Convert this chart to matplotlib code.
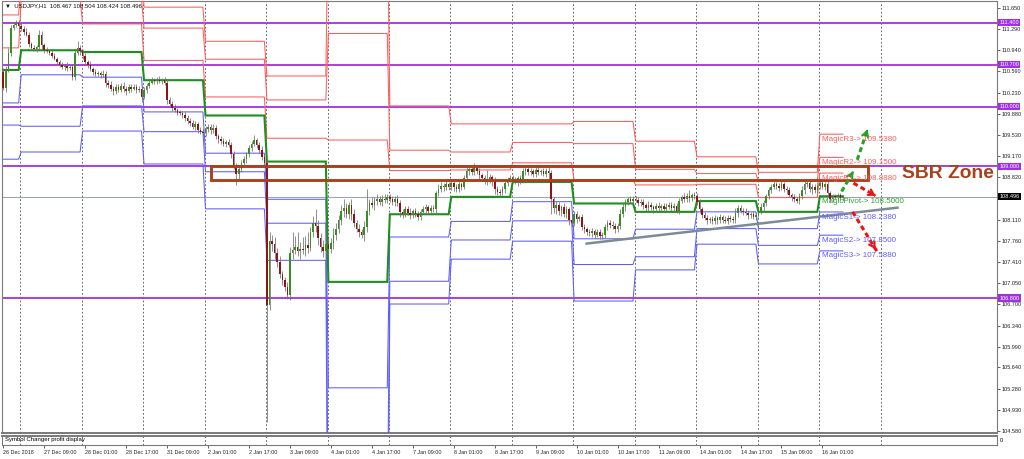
"""USDJPY H1 con pivotes diarios (MagicPivot) y zona SBR.

Reconstruye una captura de MT4: velas horarias del 26 Dec 2018 al
16 Jan 2019, niveles P/R1-R3/S1-S3 por dia, lineas horizontales
moradas, la zona SBR y las flechas de escenario.
"""

import matplotlib
matplotlib.use("Agg")
import matplotlib.pyplot as plt
from matplotlib.patches import Rectangle
from matplotlib.transforms import blended_transform_factory
import numpy as np

plt.rcParams["font.family"] = ["Liberation Sans", "DejaVu Sans"]

# barras por dia (26 Dec empieza a las 17:00, 16 Jan va por la 10a barra)
DAY_BARS = [7, 24, 24, 24, 24, 24, 24, 24, 24, 24, 24, 24, 24, 24, 10]

FIRST_OPEN = 110.58
CLOSES = [
    # 26 Dec
    110.31, 110.62, 110.90, 111.32, 111.36, 111.40, 111.35,
    # 27 Dec
    111.30, 111.25, 111.20, 111.05, 110.98, 110.96, 110.99, 111.20, 111.02, 110.95, 110.92, 110.90,
    110.85, 110.80, 110.74, 110.70, 110.66, 110.68, 110.64, 110.66, 110.50, 110.90, 110.98, 110.92,
    # 28 Dec
    110.85, 110.75, 110.70, 110.62, 110.58, 110.55, 110.56, 110.52, 110.55, 110.39, 110.36, 110.30,
    110.26, 110.32, 110.28, 110.35, 110.30, 110.26, 110.33, 110.30, 110.32, 110.28, 110.30, 110.16,
    # 31 Dec
    110.28, 110.35, 110.40, 110.44, 110.42, 110.45, 110.42, 110.44, 110.40, 110.11, 110.05, 109.98,
    109.95, 109.90, 109.89, 109.86, 109.80, 109.76, 109.72, 109.66, 109.70, 109.60, 109.58, 109.56,
    # 2 Jan
    109.62, 109.66, 109.60, 109.64, 109.50, 109.45, 109.42, 109.38, 109.40, 109.36, 109.20, 109.00,
    108.88, 108.95, 109.05, 109.12, 109.20, 109.30, 109.38, 109.44, 109.36, 109.28, 109.15, 109.05,
    # 3 Jan
    106.68, 107.75, 107.70, 107.55, 107.40, 107.20, 107.10, 106.98, 106.85, 107.55, 107.60, 107.65,
    107.58, 107.62, 107.60, 107.68, 107.64, 107.90, 108.05, 108.00, 107.80, 107.65, 107.58, 107.70,
    # 4 Jan
    107.62, 107.72, 107.85, 107.95, 108.10, 108.25, 108.30, 108.20, 108.35, 108.20, 108.05, 107.95,
    107.90, 107.86, 107.99, 108.25, 108.38, 108.35, 108.42, 108.45, 108.40, 108.46, 108.44, 108.48,
    # 7 Jan
    108.45, 108.40, 108.46, 108.38, 108.24, 108.20, 108.28, 108.22, 108.18, 108.25, 108.20, 108.16,
    108.24, 108.28, 108.32, 108.26, 108.30, 108.28, 108.55, 108.62, 108.68, 108.65, 108.70, 108.66,
    # 8 Jan
    108.72, 108.65, 108.62, 108.70, 108.66, 108.80, 108.92, 108.96, 108.90, 108.97, 108.92, 108.85,
    108.80, 108.74, 108.78, 108.82, 108.76, 108.62, 108.58, 108.56, 108.62, 108.72, 108.78, 108.80,
    # 9 Jan
    108.78, 108.74, 108.80, 108.76, 108.92, 108.96, 108.90, 108.92, 108.88, 108.94, 108.90, 108.92,
    108.88, 108.93, 108.89, 108.45, 108.30, 108.36, 108.25, 108.32, 108.20, 108.28, 108.10, 108.05,
    # 10 Jan
    108.20, 108.12, 108.15, 107.98, 107.95, 107.90, 107.88, 107.92, 107.86, 107.90, 107.84, 107.86,
    107.98, 108.06, 108.02, 108.00, 107.95, 108.00, 108.20, 108.32, 108.40, 108.45, 108.42, 108.46,
    # 11 Jan
    108.44, 108.38, 108.40, 108.35, 108.30, 108.36, 108.32, 108.28, 108.34, 108.30, 108.33, 108.29,
    108.32, 108.36, 108.30, 108.33, 108.26, 108.42, 108.48, 108.45, 108.50, 108.47, 108.52, 108.50,
    # 14 Jan
    108.40, 108.28, 108.18, 108.14, 108.10, 108.12, 108.08, 108.13, 108.10, 108.15, 108.11, 108.09,
    108.14, 108.12, 108.10, 108.22, 108.30, 108.26, 108.24, 108.22, 108.18, 108.20, 108.16, 108.19,
    # 15 Jan
    108.25, 108.32, 108.38, 108.50, 108.60, 108.66, 108.70, 108.68, 108.64, 108.70, 108.62, 108.60,
    108.52, 108.48, 108.45, 108.42, 108.50, 108.60, 108.70, 108.72, 108.62, 108.66, 108.60, 108.68,
    # 16 Jan
    108.72, 108.66, 108.70, 108.55, 108.45, 108.50, 108.48, 108.52, 108.467, 108.496,
]

# mechas por encima / por debajo del cuerpo, en centesimas de yen
WICK_UP = [
    6, 5, 8, 4, 6, 5, 4,
    5, 4, 6, 4, 3, 5, 4, 8, 6, 4, 5, 3, 4, 5, 3, 4, 5, 3, 6, 4, 5, 6, 12, 5,
    4, 5, 3, 6, 4, 5, 3, 4, 6, 4, 5, 7, 4, 6, 5, 4, 6, 4, 5, 4, 6, 5, 4, 5,
    5, 4, 6, 5, 4, 5, 6, 4, 5, 6, 5, 4, 6, 3, 5, 4, 6, 5, 4, 6, 5, 4, 5, 6,
    6, 5, 4, 6, 5, 4, 6, 5, 4, 5, 4, 6, 5, 8, 6, 5, 4, 6, 5, 8, 4, 5, 6, 5,
    6, 15, 10, 12, 8, 10, 6, 5, 8, 10, 30, 18, 25, 12, 20, 15, 22, 8, 12, 23, 10, 8, 12, 15,
    10, 8, 12, 10, 8, 10, 15, 8, 6, 10, 8, 6, 8, 6, 10, 37, 8, 10, 6, 8, 5, 6, 8, 5,
    5, 6, 4, 6, 5, 4, 6, 5, 8, 4, 6, 5, 4, 6, 5, 4, 6, 5, 4, 8, 6, 5, 6, 4,
    5, 4, 6, 5, 4, 6, 8, 5, 4, 8, 6, 5, 4, 6, 16, 5, 4, 6, 5, 4, 6, 5, 4, 6,
    6, 5, 4, 6, 5, 4, 6, 5, 4, 6, 5, 4, 6, 5, 6, 5, 4, 6, 5, 4, 6, 5, 4, 5,
    6, 5, 4, 6, 5, 4, 6, 5, 4, 6, 5, 4, 6, 5, 4, 6, 5, 6, 8, 6, 5, 4, 6, 5,
    5, 4, 6, 5, 4, 6, 5, 4, 5, 6, 4, 5, 6, 5, 4, 5, 6, 5, 4, 8, 5, 10, 4, 5,
    6, 5, 4, 6, 5, 4, 5, 6, 4, 5, 4, 6, 5, 4, 5, 8, 6, 5, 4, 6, 5, 4, 5, 4,
    5, 6, 5, 4, 6, 5, 6, 4, 5, 6, 4, 5, 6, 4, 5, 4, 6, 8, 5, 6, 4, 5, 4, 6,
    6, 5, 4, 5, 4, 3, 4, 3, 4, 1,
]
WICK_DN = [
    4, 6, 5, 5, 4, 3, 5,
    4, 6, 3, 5, 4, 3, 5, 4, 6, 5, 3, 4, 4, 3, 5, 4, 3, 5, 4, 3, 6, 5, 4, 6,
    5, 4, 6, 3, 5, 4, 4, 5, 3, 6, 5, 4, 6, 5, 4, 3, 5, 6, 4, 5, 3, 5, 4, 8,
    4, 5, 4, 3, 5, 4, 3, 5, 4, 6, 5, 6, 4, 5, 3, 5, 4, 6, 5, 4, 6, 5, 4, 5,
    5, 4, 6, 5, 4, 6, 5, 4, 5, 4, 6, 5, 19, 10, 4, 5, 6, 4, 5, 4, 6, 5, 4, 5,
    195, 8, 12, 10, 8, 6, 8, 6, 7, 8, 10, 6, 8, 12, 6, 10, 8, 6, 8, 10, 12, 8, 10, 6,
    8, 6, 10, 8, 6, 8, 10, 6, 8, 10, 6, 5, 8, 6, 10, 8, 6, 5, 8, 6, 5, 6, 5, 6,
    4, 5, 6, 5, 8, 6, 5, 4, 6, 5, 4, 6, 5, 4, 6, 5, 4, 5, 6, 5, 4, 6, 5, 6,
    5, 6, 4, 5, 6, 4, 5, 6, 5, 4, 5, 6, 5, 4, 5, 6, 8, 8, 6, 5, 4, 6, 5, 4,
    5, 4, 6, 5, 4, 6, 5, 4, 5, 6, 4, 5, 4, 6, 10, 25, 8, 10, 6, 8, 5, 6, 8, 6,
    5, 6, 4, 5, 6, 4, 5, 6, 5, 4, 6, 6, 5, 4, 5, 4, 6, 5, 4, 5, 6, 5, 4, 6,
    4, 5, 4, 6, 5, 4, 5, 6, 4, 5, 4, 6, 5, 4, 5, 6, 4, 6, 4, 5, 4, 6, 5, 4,
    5, 6, 5, 4, 6, 5, 4, 5, 6, 4, 5, 4, 6, 5, 4, 5, 6, 4, 5, 4, 6, 5, 4, 5,
    4, 5, 6, 5, 4, 5, 4, 6, 5, 4, 5, 6, 4, 6, 5, 4, 5, 4, 6, 5, 4, 8, 5, 4,
    5, 4, 6, 5, 4, 5, 3, 4, 3, 4,
]

# niveles diarios del indicador, un valor por dia
PIVOT = [110.61, 110.94, 110.91, 110.44, 109.85, 109.08, 107.07, 108.20,
         108.49, 108.74, 108.38, 108.24, 108.42, 108.24, 108.50]
R1 = [110.98, 111.80, 111.38, 110.77, 110.16, 109.47, 109.44, 108.93,
      108.94, 109.06, 108.77, 108.69, 108.70, 108.48, 108.888]
R2 = [111.53, 112.21, 111.80, 111.31, 110.79, 110.11, 111.22, 109.27,
      109.24, 109.40, 109.38, 108.95, 108.88, 108.75, 109.150]
R3 = [111.90, 112.62, 112.27, 111.66, 111.09, 110.51, 113.46, 110.01,
      109.71, 109.71, 109.75, 109.42, 109.16, 108.90, 109.538]
S1 = [110.06, 110.53, 110.49, 109.91, 109.22, 108.45, 105.30, 107.82,
      108.08, 108.41, 107.79, 107.95, 108.24, 107.96, 108.238]
S2 = [109.69, 109.67, 110.01, 109.58, 108.91, 108.05, 102.99, 107.08,
      107.77, 108.09, 107.36, 107.49, 107.96, 107.68, 107.850]
S3 = [109.12, 109.24, 109.59, 109.04, 108.29, 107.43, 100.67, 106.70,
      107.45, 107.75, 106.75, 107.27, 107.70, 107.37, 107.588]

PURPLE_LEVELS = [111.400, 110.700, 110.000, 109.000, 106.800]
CURRENT_PRICE = 108.496

Y_TICKS = [111.650, 111.290, 110.940, 110.590, 110.230, 109.880, 109.530,
           109.170, 108.820, 108.110, 107.760, 107.410, 107.050, 106.700,
           106.340, 105.990, 105.640, 105.280, 104.930, 104.580]

TIME_LABELS = [
    "26 Dec 2018", "27 Dec 09:00", "28 Dec 01:00", "28 Dec 17:00",
    "31 Dec 09:00", "2 Jan 01:00", "2 Jan 17:00", "3 Jan 09:00",
    "4 Jan 01:00", "4 Jan 17:00", "7 Jan 09:00", "8 Jan 01:00",
    "8 Jan 17:00", "9 Jan 09:00", "10 Jan 01:00", "10 Jan 17:00",
    "11 Jan 09:00", "14 Jan 01:00", "14 Jan 17:00", "15 Jan 09:00",
    "16 Jan 01:00",
]
LABEL_EVERY = 16

MAGIC_NAMES = ["MagicR3", "MagicR2", "MagicR1", "MagicPivot",
               "MagicS1", "MagicS2", "MagicS3"]

# zona SBR (barras de inicio/fin y precios)
SBR_BARS = (81, 338)
SBR_PRICES = (108.767, 109.011)

TREND_BARS = [227.9, 349.3]
TREND_PRICES = [107.71, 108.31]

# flechas de escenario: (barra0, precio0, barra1, precio1)
ARROWS_UP = [(327.5, 108.58, 332.0, 108.91), (333.6, 109.11, 337.6, 109.61)]
ARROWS_DOWN = [(332.1, 108.72, 340.7, 108.51), (331.8, 108.24, 341.3, 107.58)]

RED = "#ff5c5c"
BLUE = "#5d5dff"
GREEN = "#1d8f1d"
PURPLE = "#a330e0"
BROWN = "#a8421c"


def por_barra(valores, n):
    return np.repeat(np.array(valores, dtype=float), DAY_BARS)[:n]


def dibujar_velas(ax):
    closes = np.array(CLOSES)
    opens = np.concatenate([[FIRST_OPEN], closes[:-1]])
    highs = np.maximum(opens, closes) + np.array(WICK_UP) / 100
    lows = np.minimum(opens, closes) - np.array(WICK_DN) / 100
    x = np.arange(len(closes))
    ax.vlines(x, lows, highs, color="#707070", lw=0.55, zorder=4)
    colores = np.where(closes >= opens, "#3a8d22", "#8e1515")
    alto = np.maximum(np.abs(closes - opens), 0.014)
    ax.bar(x, alto, bottom=np.minimum(opens, closes), width=0.62,
           color=colores, lw=0, zorder=5)
    return len(closes)


def main():
    fig = plt.figure(figsize=(10.24, 4.59), dpi=100, facecolor="white")
    W, H = 1024, 459
    ax = fig.add_axes([2 / W, 1 - 433 / H, 995 / W, 432 / H])
    ax2 = fig.add_axes([2 / W, 1 - 444.5 / H, 995 / W, 9 / H])

    n = dibujar_velas(ax)
    x = np.arange(n)

    for nivel, color, lw in [(R3, RED, 0.75), (R2, RED, 0.75), (R1, RED, 0.75),
                             (S1, BLUE, 0.75), (S2, BLUE, 0.75), (S3, BLUE, 0.75),
                             (PIVOT, GREEN, 1.5)]:
        ax.plot(x, por_barra(nivel, n), color=color, lw=lw, zorder=3,
                solid_joinstyle="miter")

    for nivel in PURPLE_LEVELS:
        ax.axhline(nivel, color=PURPLE, lw=1.3, zorder=2)
    ax.axhline(CURRENT_PRICE, color="#9ea6b0", lw=0.8, zorder=2)

    # separadores de dia (el ultimo cae en el futuro)
    inicios = np.cumsum(DAY_BARS)[:-1]
    separadores = list(inicios) + [inicios[-1] + 24]
    for s in separadores:
        for a in (ax, ax2):
            a.axvline(s - 0.3, color="#4a4a4a", lw=0.6, ls=(0, (2, 2.5)),
                      zorder=1)

    ax.add_patch(Rectangle((SBR_BARS[0], SBR_PRICES[0]),
                           SBR_BARS[1] - SBR_BARS[0],
                           SBR_PRICES[1] - SBR_PRICES[0],
                           fill=False, ec=BROWN, lw=2.1, zorder=6))
    ax.text(351, 108.88, "SBR Zone", color=BROWN, fontsize=13.9,
            fontweight="bold", va="center", ha="left", zorder=7)

    ax.plot(TREND_BARS, TREND_PRICES, color="#7d8a97", lw=1.8, zorder=6)

    for flechas, color in [(ARROWS_UP, "#1fa51f"), (ARROWS_DOWN, "#ee1111")]:
        for x0, y0, x1, y1 in flechas:
            ax.plot([x0, x1], [y0, y1], color=color, lw=2.2,
                    ls=(0, (1.6, 1.1)), zorder=7)
            ax.annotate("", xy=(x1, y1),
                        xytext=(x1 - (x1 - x0) * 0.15, y1 - (y1 - y0) * 0.15),
                        arrowprops=dict(arrowstyle="->,head_length=0.35,head_width=0.22",
                                        color=color, lw=1.6), zorder=7)

    # etiquetas del ultimo dia
    ultimos = [R3[-1], R2[-1], R1[-1], PIVOT[-1], S1[-1], S2[-1], S3[-1]]
    colores = [RED] * 3 + ["#2ea52e"] + [BLUE] * 3
    inicio_ultimo = inicios[-1] + 1
    for nombre, valor, color in zip(MAGIC_NAMES, ultimos, colores):
        ax.text(inicio_ultimo, valor - 0.085, f"{nombre}-> {valor:.4f}",
                color=color, fontsize=5.8, va="center", ha="left", zorder=7)

    ax.text(0.003, 0.994, "\u25bc  USDJPY,H1  108.467 108.504 108.424 108.496",
            transform=ax.transAxes, fontsize=4.3, va="top", ha="left",
            color="#111111", zorder=8)

    ax.set_xlim(-0.5, 388.2)
    ax.set_ylim(104.545, 111.763)
    ax2.set_xlim(ax.get_xlim())
    ax2.set_ylim(0, 1)

    ax.set_xticks([])
    ax.yaxis.tick_right()
    ax.set_yticks(Y_TICKS)
    ax.set_yticklabels([f"{v:.3f}" for v in Y_TICKS])
    ax.tick_params(axis="y", labelsize=4, length=2, width=0.5, pad=1.5,
                   colors="#222222")

    trans = blended_transform_factory(ax.transAxes, ax.transData)
    for nivel in PURPLE_LEVELS:
        ax.text(1.0022, nivel, f"{nivel:.3f}", transform=trans, fontsize=4,
                color="white", va="center", ha="left", clip_on=False,
                bbox=dict(boxstyle="square,pad=0.22", fc=PURPLE, ec="none"),
                zorder=9)
    ax.text(1.0022, CURRENT_PRICE, f"{CURRENT_PRICE:.3f}", transform=trans,
            fontsize=4, color="white", va="center", ha="left", clip_on=False,
            bbox=dict(boxstyle="square,pad=0.22", fc="black", ec="none"),
            zorder=9)

    ax2.text(0.003, 0.5, "Symbol Changer profit display",
             transform=ax2.transAxes, fontsize=4.3, va="center", ha="left")
    ax2.yaxis.tick_right()
    ax2.set_yticks([0.5])
    ax2.set_yticklabels(["0"])
    ax2.tick_params(axis="y", labelsize=4, length=0, pad=2)
    ax2.set_xticks([i * LABEL_EVERY for i in range(len(TIME_LABELS))])
    ax2.set_xticklabels(TIME_LABELS)
    ax2.tick_params(axis="x", labelsize=3.9, length=2.5, width=0.5, pad=1.5,
                    colors="#222222")
    for etiqueta in ax2.get_xticklabels():
        etiqueta.set_ha("left")

    for a in (ax, ax2):
        for spine in a.spines.values():
            spine.set_color("#7a7a7a")
            spine.set_linewidth(0.8)
    ax.spines["bottom"].set_linewidth(1.4)
    ax2.spines["top"].set_linewidth(1.4)

    fig.savefig("out.png", dpi=100, facecolor="white")
    plt.close(fig)


if __name__ == "__main__":
    main()
